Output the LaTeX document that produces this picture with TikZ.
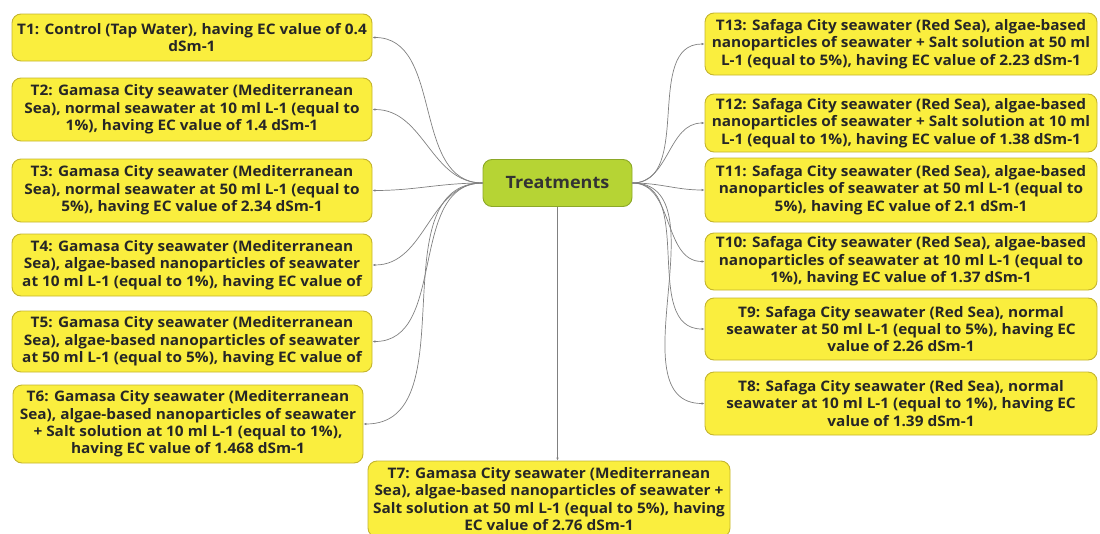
\documentclass[tikz,border=0pt]{standalone}
\usepackage{fontspec}
\setmainfont{Open Sans}[FakeStretch=1.06]
\usepackage{tikz}
\usetikzlibrary{arrows.meta, positioning}
\definecolor{boxyellow}{RGB}{250,238,62}
\definecolor{boxedge}{RGB}{196,180,46}
\definecolor{rootgreen}{RGB}{182,212,52}
\definecolor{rootedge}{RGB}{140,168,40}
\definecolor{linkgray}{RGB}{128,128,128}

\begin{document}
\begin{tikzpicture}[
  x=1pt, y=-1pt,
  tbox/.style={draw=boxedge, fill=boxyellow, rounded corners=9pt, line width=0.9pt, align=center,
    font=\fontsize{14.5}{17.4}\selectfont\bfseries, text=black!85, inner sep=1pt},
  root/.style={draw=rootedge, fill=rootgreen, rounded corners=9pt, line width=0.9pt,
    font=\fontsize{17}{20}\selectfont\bfseries, text=black!80},
  link/.style={-{Latex[length=3pt, width=2.6pt]}, linkgray, line width=0.7pt},
]
\useasboundingbox (0,0) rectangle (1100,533);

% Centre node
\node[root, minimum width=149pt, minimum height=47pt] (treat) at (557.5,183) {Treatments};

% Left column: Gamasa (Mediterranean Sea)
\node[tbox, minimum width=360pt, minimum height=47pt] (t1) at (192,37.5)
  {T1: Control (Tap Water), having EC value of 0.4\\dSm-1};
\node[tbox, minimum width=360pt, minimum height=63pt] (t2) at (192,109.5)
  {T2: Gamasa City seawater (Mediterranean\\Sea), normal seawater at 10 ml L-1 (equal to\\1\%), having EC value of 1.4 dSm-1};
\node[tbox, minimum width=360pt, minimum height=63pt] (t3) at (192,190.5)
  {T3: Gamasa City seawater (Mediterranean\\Sea), normal seawater at 50 ml L-1 (equal to\\5\%), having EC value of 2.34 dSm-1};
\node[tbox, minimum width=360pt, minimum height=62pt] (t4) at (192,265)
  {T4: Gamasa City seawater (Mediterranean\\Sea), algae-based nanoparticles of seawater\\at 10 ml L-1 (equal to 1\%), having EC value of};
\node[tbox, minimum width=360pt, minimum height=61pt] (t5) at (192,341.5)
  {T5: Gamasa City seawater (Mediterranean\\Sea), algae-based nanoparticles of seawater\\at 50 ml L-1 (equal to 5\%), having EC value of};
\node[tbox, minimum width=350pt, minimum height=78pt] (t6) at (188,424)
  {T6: Gamasa City seawater (Mediterranean\\Sea), algae-based nanoparticles of seawater\\+ Salt solution at 10 ml L-1 (equal to 1\%),\\having EC value of 1.468 dSm-1};
\node[tbox, minimum width=362pt, minimum height=76pt] (t7) at (549,499)
  {T7: Gamasa City seawater (Mediterranean\\Sea), algae-based nanoparticles of seawater +\\Salt solution at 50 ml L-1 (equal to 5\%), having\\EC value of 2.76 dSm-1};

% Right column: Safaga (Red Sea)
\node[tbox, minimum width=392pt, minimum height=62pt] (t13) at (901,44)
  {T13: Safaga City seawater (Red Sea), algae-based\\nanoparticles of seawater + Salt solution at 50 ml\\L-1 (equal to 5\%), having EC value of 2.23 dSm-1};
\node[tbox, minimum width=392pt, minimum height=58pt] (t12) at (901,123)
  {T12: Safaga City seawater (Red Sea), algae-based\\nanoparticles of seawater + Salt solution at 10 ml\\L-1 (equal to 1\%), having EC value of 1.38 dSm-1};
\node[tbox, minimum width=392pt, minimum height=64pt] (t11) at (901,190)
  {T11: Safaga City seawater (Red Sea), algae-based\\nanoparticles of seawater at 50 ml L-1 (equal to\\5\%), having EC value of 2.1 dSm-1};
\node[tbox, minimum width=392pt, minimum height=57pt] (t10) at (901,261.5)
  {T10: Safaga City seawater (Red Sea), algae-based\\nanoparticles of seawater at 10 ml L-1 (equal to\\1\%), having EC value of 1.37 dSm-1};
\node[tbox, minimum width=392pt, minimum height=62pt] (t9) at (901,329)
  {T9: Safaga City seawater (Red Sea), normal\\seawater at 50 ml L-1 (equal to 5\%), having EC\\value of 2.26 dSm-1};
\node[tbox, minimum width=392pt, minimum height=63pt] (t8) at (901,403.5)
  {T8: Safaga City seawater (Red Sea), normal\\seawater at 10 ml L-1 (equal to 1\%), having EC\\value of 1.39 dSm-1};

% Links to the left
\draw[link] (treat.west) to[out=180, in=0] (t1.east);
\draw[link] (treat.west) to[out=180, in=0] (t2.east);
\draw[link] (treat.west) to[out=180, in=0] (t3.east);
\draw[link] (treat.west) to[out=180, in=0] (t4.east);
\draw[link] (treat.west) to[out=180, in=0] (t5.east);
\draw[link] (treat.west) to[out=180, in=0] (t6.east);

% Link down
\draw[link] (treat.south) -- (t7.north -| treat.south);

% Links to the right
\draw[link] (treat.east) to[out=0, in=180] (t13.west);
\draw[link] (treat.east) to[out=0, in=180] (t12.west);
\draw[link] (treat.east) to[out=0, in=180] (t11.west);
\draw[link] (treat.east) to[out=0, in=180] (t10.west);
\draw[link] (treat.east) to[out=0, in=180] (t9.west);
\draw[link] (treat.east) to[out=0, in=180] (t8.west);
\end{tikzpicture}
\end{document}
